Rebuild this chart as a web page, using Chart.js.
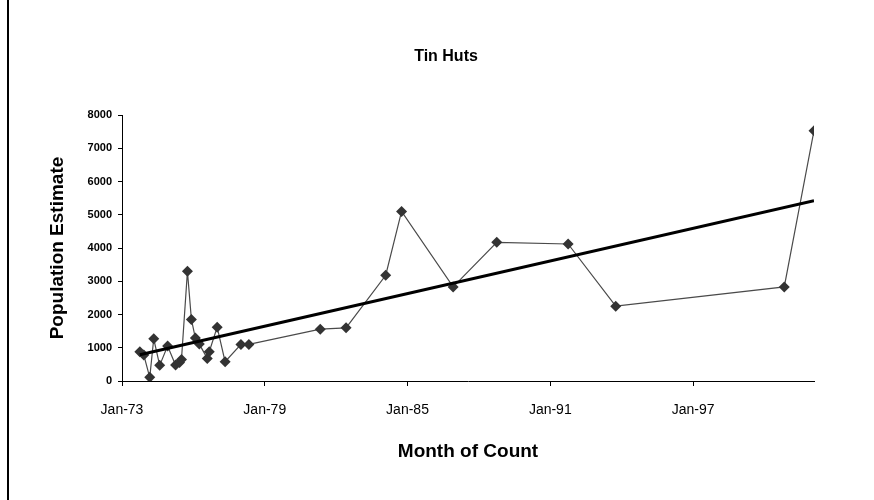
<!DOCTYPE html>
<html>
<head>
<meta charset="utf-8">
<script src="https://cdn.jsdelivr.net/npm/chart.js@4.4.1/dist/chart.umd.min.js"></script>
<style>
  html, body { margin: 0; padding: 0; background: #fff; }
  #wrap { width: 874px; height: 500px; }
</style>
</head>
<body>
<div id="wrap"><canvas id="tinHuts" width="874" height="500"></canvas></div>
<script>
// counts (month of count, estimate)
const countMonths = ['1973-10', '1973-12', '1974-03', '1974-05', '1974-08', '1974-12', '1975-04', '1975-06',
  '1975-07', '1975-10', '1975-12', '1976-02', '1976-04', '1976-08', '1976-09', '1977-01', '1977-05', '1978-01',
  '1978-05', '1981-05', '1982-06', '1984-02', '1984-10', '1986-12', '1988-10', '1991-10', '1993-10', '2000-11',
  '2002-02'];
const hutCounts = [880, 780, 110, 1270, 470, 1050, 480, 560, 650, 3300, 1850, 1290, 1110, 680, 880, 1620, 580,
  1100, 1100, 1560, 1600, 3180, 5100, 2830, 4170, 4120, 2250, 2830, 7530];

// linear trend line, ends
const trendMonths = ['1973-10', '2002-02'];
const trendValues = [790, 5420];

const axisStart = '1973-01';
const axisEnd = '2002-02';
const tickMonths = ['1973-01', '1979-01', '1985-01', '1991-01', '1997-01'];
const tickLabels = ['Jan-73', 'Jan-79', 'Jan-85', 'Jan-91', 'Jan-97'];

// months since Jan-73, so a plain linear axis works without a date adapter
const toMonth = s => {
  const [y, m] = s.split('-').map(Number);
  return (y - 1973) * 12 + (m - 1);
};
const tickValues = tickMonths.map(toMonth);

const pts = (months, vals) => months.map((m, i) => ({ x: toMonth(m), y: vals[i] }));

const FONT = 'Arial, "Liberation Sans", sans-serif';

// title + the frame line on the left
const extras = {
  id: 'extras',
  afterDraw(chart) {
    const ctx = chart.ctx;
    ctx.save();
    ctx.strokeStyle = '#000';
    ctx.lineWidth = 2;
    ctx.beginPath();
    ctx.moveTo(8, 0);
    ctx.lineTo(8, 500);
    ctx.stroke();
    ctx.fillStyle = '#000';
    ctx.font = 'bold 16px ' + FONT;
    ctx.textAlign = 'center';
    ctx.textBaseline = 'middle';
    ctx.fillText('Tin Huts', 446, 57);
    ctx.restore();
  }
};

new Chart(document.getElementById('tinHuts'), {
  type: 'line',
  data: {
    datasets: [
      {
        label: 'Linear (Population Estimate)',
        data: pts(trendMonths, trendValues),
        borderColor: '#000',
        borderWidth: 3,
        pointRadius: 0,
        fill: false
      },
      {
        label: 'Population Estimate',
        data: pts(countMonths, hutCounts),
        borderColor: '#4a4a4a',
        borderWidth: 1.2,
        pointStyle: 'rectRot',
        pointRadius: 5.5,
        pointBackgroundColor: '#333',
        pointBorderColor: '#333',
        pointBorderWidth: 0,
        fill: false,
        tension: 0
      }
    ]
  },
  options: {
    responsive: false,
    animation: false,
    devicePixelRatio: 1,
    layout: { padding: { top: 115, right: 60, left: 0, bottom: 0 } },
    plugins: {
      legend: { display: false },
      tooltip: { enabled: false },
      title: { display: false }
    },
    scales: {
      x: {
        type: 'linear',
        min: toMonth(axisStart),
        max: toMonth(axisEnd),
        afterFit: scale => { scale.height = 119; },
        afterBuildTicks: scale => { scale.ticks = tickValues.map(v => ({ value: v })); },
        ticks: {
          autoSkip: false,
          maxRotation: 0,
          color: '#000',
          padding: 16,
          font: { family: FONT, size: 14 },
          callback: v => tickLabels[tickValues.indexOf(v)]
        },
        grid: { drawOnChartArea: false, drawTicks: true, tickLength: 5, color: '#000' },
        border: { display: true, color: '#000', width: 1 },
        title: {
          display: true,
          text: 'Month of Count',
          color: '#000',
          font: { family: FONT, size: 19, weight: 'bold' },
          padding: { top: 0, bottom: 37 }
        }
      },
      y: {
        min: 0,
        max: 8000,
        afterFit: scale => { scale.width = 122; },
        ticks: {
          stepSize: 1000,
          color: '#000',
          padding: 6,
          font: { family: FONT, size: 11, weight: 'bold' },
          callback: v => String(v)
        },
        grid: { drawOnChartArea: false, drawTicks: true, tickLength: 4, color: '#000' },
        border: { display: true, color: '#000', width: 1 },
        title: {
          display: true,
          text: 'Population Estimate',
          color: '#000',
          font: { family: FONT, size: 19, weight: 'bold' },
          padding: { top: 46, bottom: 0 }
        }
      }
    }
  },
  plugins: [extras]
});
</script>
</body>
</html>
